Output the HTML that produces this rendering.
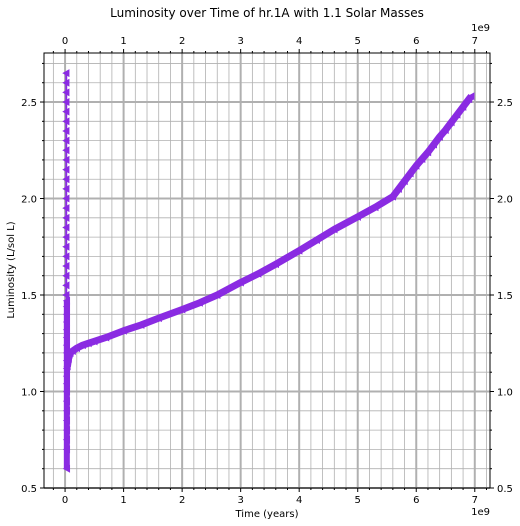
<!DOCTYPE html>
<html><head><meta charset="utf-8">
<style>
html,body{margin:0;padding:0;background:#fff;}
svg{display:block;font-family:"DejaVu Sans","Liberation Sans",sans-serif;}
</style></head>
<body>
<svg id="chart" width="520" height="526" viewBox="0 0 520 526"></svg>
<script>
// data (time in 1e9 years, luminosity in L/sol L)
const xTicks = [0,1,2,3,4,5,6,7];
const yTicks = [0.5,1.0,1.5,2.0,2.5];
const yTickLabels = ["0.5","1.0","1.5","2.0","2.5"];
const earlyTime = [0.02,0.02,0.02,0.02,0.02,0.02,0.02,0.02,0.02,0.02,0.02,0.02,0.02,0.02,0.02,0.02,0.02,0.02,0.02,0.02,0.02,0.02,0.02,0.02,0.03,0.03,0.03,0.03,0.03,0.03,0.03,0.03,0.03,0.03,0.03,0.03,0.03,0.03,0.03,0.03,0.03,0.03,0.03,0.03];
const earlyLum = [2.65,2.60,2.55,2.50,2.45,2.40,2.35,2.30,2.25,2.20,2.15,2.10,2.05,2.00,1.95,1.90,1.85,1.80,1.75,1.70,1.65,1.60,1.55,1.50,1.47,1.44,1.40,1.36,1.32,1.28,1.24,1.20,1.16,1.12,1.08,1.04,1.00,0.95,0.90,0.85,0.80,0.75,0.70,0.60];
const mainTime = [0.04,0.06,0.09,0.13,0.2,0.3,0.4,0.5,0.7,1.0,1.3,1.6,2.0,2.3,2.6,3.0,3.3,3.6,4.0,4.3,4.6,5.0,5.3,5.6,5.7,5.8,5.9,6.0,6.1,6.2,6.3,6.4,6.5,6.6,6.7,6.8,6.9,6.94];
const mainLum = [1.13,1.17,1.20,1.21,1.225,1.24,1.25,1.26,1.28,1.315,1.345,1.38,1.425,1.46,1.50,1.565,1.61,1.66,1.73,1.785,1.84,1.905,1.955,2.01,2.05,2.09,2.13,2.17,2.205,2.24,2.28,2.32,2.355,2.395,2.435,2.475,2.515,2.53];

const NS='http://www.w3.org/2000/svg';
const svg=document.getElementById('chart');
const L=44,R=490,T=53,B=488;
const xmin=-0.36,xmax=7.26,ymin=0.5,ymax=2.754;
const sx=v=>L+(v-xmin)/(xmax-xmin)*(R-L);
const sy=v=>B-(v-ymin)/(ymax-ymin)*(B-T);
function el(tag,attrs,parent){const e=document.createElementNS(NS,tag);for(const k in attrs)e.setAttribute(k,attrs[k]);(parent||svg).appendChild(e);return e;}

const grid=el('g',{});


for(let i=-1;i<=36;i++){const v=i*0.2;if(v<xmin||v>xmax)continue;
 el('line',{x1:sx(v),x2:sx(v),y1:T,y2:B,stroke:'#b0b0b0','stroke-width':0.8},grid);}
for(let i=5;i<=28;i++){const v=i*0.1;if(v>ymax)continue;
 el('line',{x1:L,x2:R,y1:sy(v),y2:sy(v),stroke:'#b0b0b0','stroke-width':0.8},grid);}
xTicks.forEach(v=>el('line',{x1:sx(v),x2:sx(v),y1:T,y2:B,stroke:'#b0b0b0','stroke-width':2},grid));
yTicks.forEach(v=>el('line',{x1:L,x2:R,y1:sy(v),y2:sy(v),stroke:'#b0b0b0','stroke-width':2},grid));

const series=el('g',{});


const col='#8a2be2';
function tri(x,y){const s=4;return `${x-s},${y} ${x+s*0.8},${y-s} ${x+s*0.8},${y+s}`;}
el('polyline',{points:earlyTime.map((t,i)=>sx(t)+','+sy(earlyLum[i])).join(' '),fill:'none',stroke:col,'stroke-width':2},series);
const lowIdx=earlyLum.findIndex(v=>v<1.5);
el('polyline',{points:earlyTime.slice(lowIdx).map((t,i)=>sx(t)+','+sy(earlyLum[lowIdx+i])).join(' '),fill:'none',stroke:col,'stroke-width':6},series);
el('polyline',{points:mainTime.map((t,i)=>sx(t)+','+sy(mainLum[i])).join(' '),fill:'none',stroke:col,'stroke-width':7,'stroke-linejoin':'round'},series);
earlyTime.forEach((t,i)=>{const m=el('polygon',{points:tri(sx(t),sy(earlyLum[i])),fill:col},series);
 
 });
mainTime.forEach((t,i)=>{const m=el('polygon',{points:tri(sx(t),sy(mainLum[i])),fill:col},series);
 
 });

el('rect',{x:L,y:T,width:R-L,height:B-T,fill:'none',stroke:'#000','stroke-width':1});

const axes=el('g',{'font-size':10,fill:'#000'});


xTicks.forEach(v=>{const x=sx(v);
 el('line',{x1:x,x2:x,y1:B,y2:B+4,stroke:'#000'},axes);
 el('line',{x1:x,x2:x,y1:T,y2:T-4,stroke:'#000'},axes);
 const a=el('text',{x:x,y:B+15,'text-anchor':'middle'},axes);a.textContent=v;
 
 
 const b=el('text',{x:x,y:T-9,'text-anchor':'middle'},axes);b.textContent=v;
 
 });
yTicks.forEach((v,i)=>{const y=sy(v);
 el('line',{x1:L,x2:L-4,y1:y,y2:y,stroke:'#000'},axes);
 el('line',{x1:R,x2:R+4,y1:y,y2:y,stroke:'#000'},axes);
 const a=el('text',{x:L-7,y:y+4,'text-anchor':'end'},axes);a.textContent=yTickLabels[i];
 
 
 const b=el('text',{x:R+7,y:y+4,'text-anchor':'start'},axes);b.textContent=yTickLabels[i];
 
 });
for(let i=-1;i<=36;i++){const v=i*0.2;if(v<xmin||v>xmax||Math.abs(v-Math.round(v))<1e-6)continue;
 el('line',{x1:sx(v),x2:sx(v),y1:B,y2:B+2,stroke:'#000'},axes);
 el('line',{x1:sx(v),x2:sx(v),y1:T,y2:T-2,stroke:'#000'},axes);}
for(let i=5;i<=28;i++){const v=i*0.1;if(v>ymax||i%5===0)continue;
 el('line',{x1:L,x2:L-2,y1:sy(v),y2:sy(v),stroke:'#000'},axes);
 el('line',{x1:R,x2:R+2,y1:sy(v),y2:sy(v),stroke:'#000'},axes);}
</script>
<svg style="position:absolute;left:0;top:0" width="520" height="526" font-family="DejaVu Sans, Liberation Sans, sans-serif">
<text x="267" y="17" text-anchor="middle" font-size="12">Luminosity over Time of hr.1A with 1.1 Solar Masses</text>
<text x="267" y="517" text-anchor="middle" font-size="10">Time (years)</text>
<text x="490" y="515" text-anchor="end" font-size="10">1e9</text>
<text x="490" y="31" text-anchor="end" font-size="10">1e9</text>
<text transform="translate(14,270) rotate(-90)" text-anchor="middle" font-size="10">Luminosity (L/sol L)</text>
</svg>
</body></html>
